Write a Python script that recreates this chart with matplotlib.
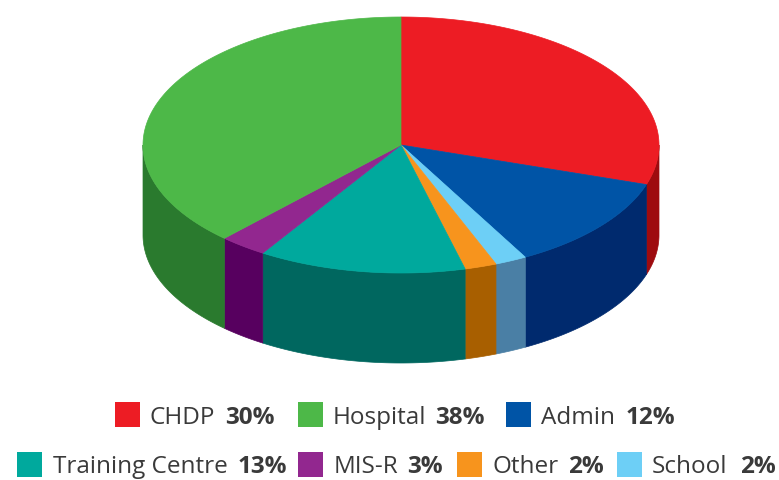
import numpy as np
import matplotlib
matplotlib.use('Agg')
import matplotlib.pyplot as plt
from matplotlib.patches import Polygon, Rectangle

# clockwise from 12 o'clock
labels = ['CHDP', 'Admin', 'School', 'Other', 'Training Centre', 'MIS-R', 'Hospital']
values = [30, 12, 2, 2, 13, 3, 38]
top_colors = ['#ed1c24', '#0054a6', '#6dcff6', '#f7941d', '#00a99d', '#92278f', '#4db848']
side_colors = ['#9e0b0f', '#002a6e', '#4a7fa5', '#a85f00', '#00675f', '#57005f', '#2a7a2e']

row1 = ['CHDP', 'Hospital', 'Admin']
row2 = ['Training Centre', 'MIS-R', 'Other', 'School']
pct = {'CHDP': '30%', 'Hospital': '38%', 'Admin': '12%', 'Training Centre': '13%',
       'MIS-R': '3%', 'Other': '2%', 'School': '2%'}

# swatch left, label left, percent left
row1_swatch = [115, 298, 506]
row1_text = [150, 333, 541]
row1_bold = [225, 435, 626]
row2_swatch = [17, 298, 457, 617]
row2_text = [53, 334, 493, 652]
row2_bold = [238, 407, 568, 740]

cx, cy, rx, ry, depth = 401, 145, 258, 128, 90

plt.rcParams['font.family'] = ['Open Sans', 'DejaVu Sans']
fig = plt.figure(figsize=(7.79, 4.80), dpi=100)
ax = fig.add_axes([0, 0, 1, 1])
ax.set_xlim(0, 779)
ax.set_ylim(480, 0)
ax.axis('off')

def rim(a0, a1):
    t = np.radians(np.linspace(a0, a1, 200))
    return cx + rx * np.sin(t), cy - ry * np.cos(t)

edges = np.cumsum([0] + values) * 3.6
color_by = dict(zip(labels, top_colors))

# side walls, only the front half shows
for i in range(len(values)):
    a0 = max(edges[i], 90)
    a1 = min(edges[i + 1], 270)
    if a1 <= a0:
        continue
    x, y = rim(a0, a1)
    pts = np.column_stack([np.r_[x, x[::-1]], np.r_[y, y[::-1] + depth]])
    ax.add_patch(Polygon(pts, closed=True, fc=side_colors[i], ec=side_colors[i], lw=0.5))

# top slices
for i in range(len(values)):
    x, y = rim(edges[i], edges[i + 1])
    pts = np.column_stack([np.r_[cx, x], np.r_[cy, y]])
    ax.add_patch(Polygon(pts, closed=True, fc=top_colors[i], ec=top_colors[i], lw=0.5))

def legend_row(names, sw_x, text_x, bold_x, top, base):
    for name, sx, tx, bx in zip(names, sw_x, text_x, bold_x):
        ax.add_patch(Rectangle((sx, top), 25, 25, fc=color_by[name], ec='none'))
        ax.text(tx, base, name, fontsize=17.5, color='#3a3a3a', va='baseline', ha='left')
        ax.text(bx, base, pct[name], fontsize=17.5, color='#3a3a3a', va='baseline', ha='left',
                fontweight='bold')

legend_row(row1, row1_swatch, row1_text, row1_bold, 402, 424)
legend_row(row2, row2_swatch, row2_text, row2_bold, 452, 473)

fig.savefig('out.png', dpi=100)
